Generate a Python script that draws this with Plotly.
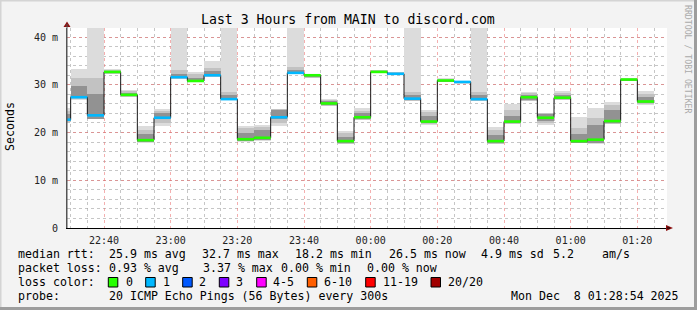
import plotly.graph_objects as go
import pandas as pd

# ---------------- data ----------------
step_end = pd.date_range("2025-12-07 22:30", "2025-12-08 01:25", freq="5min")

median_ms = [22.7, 27.4, 23.6, 32.7, 27.9, 18.4, 23.1, 31.6, 30.8, 32.0, 27.0, 18.6,
             18.9, 23.2, 32.5, 32.0, 26.1, 18.2, 23.2, 32.7, 32.3, 27.1, 22.3, 30.9,
             30.6, 27.0, 18.2, 22.3, 27.4, 23.1, 27.3, 18.2, 18.5, 22.4, 31.1, 26.5]

loss_level = [1, 1, 1, 0, 0, 0, 1, 1, 0, 1, 1, 0, 0, 1, 1, 0, 0, 0,
              0, 0, 1, 1, 0, 0, 1, 1, 0, 0, 0, 0, 0, 0, 0, 0, 0, 0]

smoke_lo = [22.2, 26.8, 22.8, 32.2, 27.5, 17.9, 21.4, 31.3, 30.5, 31.7, 26.8, 18.1,
            18.3, 21.4, 32.2, 31.4, 25.5, 17.5, 22.6, 32.4, 32.0, 26.7, 21.6, 30.5,
            30.2, 26.7, 17.6, 21.7, 26.6, 21.6, 26.8, 17.9, 17.7, 21.7, 30.7, 25.8]
smoke_hi = [25.1, 33.3, 45.0, 33.3, 28.9, 21.4, 24.9, 45.0, 32.7, 35.0, 45.0, 21.4,
            21.5, 24.9, 45.0, 32.3, 27.0, 20.3, 25.1, 33.0, 32.6, 45.0, 24.7, 31.4,
            30.8, 45.0, 21.2, 26.0, 28.5, 24.1, 28.7, 23.3, 25.1, 26.5, 31.5, 28.7]

mid_lo = [22.3, 27.0, 22.8, 32.3, 27.5, 18.0, 22.0, 31.3, 30.5, 31.7, 26.8, 18.2,
          18.4, 22.0, 32.2, 31.5, 25.6, 17.6, 22.7, 32.4, 32.0, 26.7, 21.7, 30.6,
          30.3, 26.7, 17.7, 21.8, 26.7, 22.0, 26.9, 17.9, 17.8, 21.8, 30.8, 25.9]
mid_hi = [24.5, 31.5, 31.5, 33.1, 28.6, 20.5, 24.5, 33.0, 32.2, 33.5, 28.5, 21.0,
          21.2, 24.9, 33.8, 32.2, 26.8, 19.8, 24.6, 33.0, 32.6, 28.5, 24.2, 31.3,
          30.8, 28.5, 20.5, 24.8, 28.2, 24.0, 28.3, 21.0, 23.0, 25.8, 31.4, 28.0]

core_lo = [22.4, 27.2, 22.8, 32.4, 27.6, 18.1, 22.8, 31.4, 30.6, 31.8, 26.9, 18.3,
           18.5, 22.9, 32.3, 31.6, 25.8, 17.8, 22.8, 32.5, 32.1, 26.8, 21.9, 30.7,
           30.4, 26.8, 17.9, 21.9, 26.9, 22.4, 27.0, 17.9, 17.9, 21.9, 30.9, 26.1]
core_hi = [23.8, 29.8, 28.0, 32.9, 28.3, 19.6, 24.0, 32.2, 31.5, 32.8, 27.8, 20.0,
           20.5, 24.8, 33.0, 32.1, 26.6, 19.0, 24.0, 32.9, 32.5, 27.8, 23.5, 31.1,
           30.7, 27.8, 19.5, 23.5, 27.9, 23.9, 27.8, 19.6, 21.5, 24.8, 31.3, 27.5]

loss_labels = ["0", "1", "2", "3", "4-5", "6-10", "11-19", "20/20"]
loss_colors = ["#26ff00", "#00b8ff", "#0059ff", "#7e00ff", "#ff00ff", "#ff5e00", "#ff0000", "#a10000"]

ytick_vals = [0, 10, 20, 30, 40]
ytick_text = ["0", "10 m", "20 m", "30 m", "40 m"]

title_text = "Last 3 Hours from MAIN to discord.com"
row1 = [("median rtt:", 16), ("25.9 ms avg", 107.3), ("32.7 ms max", 200.3), ("18.2 ms min", 293.3),
        ("26.5 ms now", 386.7), ("4.9 ms sd", 479), ("5.2", 551), ("am/s", 600)]
row2 = [("packet loss:", 16), ("0.93 % avg", 107.3), ("3.37 % max", 200.7), ("0.00 % min", 279.3),
        ("0.00 % now", 365)]
probe_text = "20 ICMP Echo Pings (56 Bytes) every 300s"
date_text = "Mon Dec  8 01:28:54 2025"

# ---------------- geometry helpers (pixel -> paper) ----------------
L, R, T, B = 67, 30, 28, 82
W, H = 697, 310
PW, PH = W - L - R, H - T - B


def pxx(px):
    return (px - L) / PW


def pxy(py):
    return (H - B - py) / PH


MONO = "DejaVu Sans Mono"
step = pd.Timedelta(minutes=5)
step_start = step_end - step
centers = step_end - step / 2

fig = go.Figure()

# smoke layers
for lo, hi, col in [(smoke_lo, smoke_hi, "#dcdcdc"), (mid_lo, mid_hi, "#c2c2c2"), (core_lo, core_hi, "#929292")]:
    fig.add_trace(go.Bar(
        x=centers, y=[h - l for l, h in zip(lo, hi)], base=lo,
        width=300000, marker=dict(color=col, line=dict(width=0)),
        hoverinfo="skip", showlegend=False))

# black median step line
fig.add_trace(go.Scatter(
    x=list(step_start) + [step_end[-1]], y=median_ms + [median_ms[-1]],
    mode="lines", line=dict(color="#1a1a1a", width=1, shape="hv"),
    hoverinfo="skip", showlegend=False))

# colored median segments by loss
for lvl, col in enumerate(loss_colors):
    xs, ys = [], []
    for s, e, m, l in zip(step_start, step_end, median_ms, loss_level):
        if l == lvl:
            xs += [s, e, None]
            ys += [m, m, None]
    if xs:
        fig.add_trace(go.Scatter(x=xs, y=ys, mode="lines",
                                 line=dict(color=col, width=2.6),
                                 hoverinfo="skip", showlegend=False))

fig.update_layout(
    width=W, height=H,
    margin=dict(l=L, r=R, t=T, b=B),
    paper_bgcolor="#f3f3f3", plot_bgcolor="#ffffff",
    barmode="overlay", bargap=0,
    font=dict(family=MONO, color="#000000"),
)

fig.update_xaxes(
    type="date",
    range=["2025-12-07 22:28:54", "2025-12-08 01:28:54"],
    tickformat="%H:%M", tick0="2025-12-07 22:40", dtick=20 * 60000,
    showgrid=True, gridcolor="rgba(235,110,110,0.55)", griddash="dot", gridwidth=1,
    minor=dict(dtick=5 * 60000, tick0="2025-12-07 22:40", showgrid=True,
               gridcolor="rgba(160,160,160,0.6)", griddash="dot", gridwidth=1),
    showline=True, linecolor="#000000", linewidth=1, zeroline=False,
    ticks="", tickfont=dict(family=MONO, size=10, color="#222"), ticklabelstandoff=3,
)
fig.update_yaxes(
    range=[0, 41.9], tickvals=ytick_vals, ticktext=ytick_text,
    showgrid=True, gridcolor="rgba(235,110,110,0.55)", griddash="dot", gridwidth=1,
    minor=dict(dtick=2, showgrid=True, gridcolor="rgba(160,160,160,0.6)", griddash="dot", gridwidth=1),
    showline=True, linecolor="#555555", linewidth=1, zeroline=False,
    ticks="", tickfont=dict(family=MONO, size=10, color="#222"), ticklabelstandoff=6,
)

shapes = []
# arrows
shapes.append(dict(type="path", xref="paper", yref="paper",
                   path=f"M {pxx(666)} {pxy(225)} L {pxx(673)} {pxy(228)} L {pxx(666)} {pxy(231)} Z",
                   fillcolor="#8b1010", line=dict(width=0)))
shapes.append(dict(type="path", xref="paper", yref="paper",
                   path=f"M {pxx(63.5)} {pxy(27)} L {pxx(67)} {pxy(21.5)} L {pxx(70.5)} {pxy(27)} Z",
                   fillcolor="#8b1010", line=dict(width=0)))
shapes.append(dict(type="line", xref="paper", yref="paper", x0=pxx(67), x1=pxx(67),
                   y0=pxy(228), y1=pxy(24), line=dict(color="#555555", width=1)))
shapes.append(dict(type="line", xref="paper", yref="paper", x0=pxx(667), x1=pxx(670),
                   y0=pxy(228), y1=pxy(228), line=dict(color="#000000", width=1)))
# frame
shapes.append(dict(type="rect", xref="paper", yref="paper", x0=pxx(0), x1=pxx(697), y0=pxy(0), y1=pxy(1.5),
                   fillcolor="#d4d4d4", line=dict(width=0), layer="below"))
shapes.append(dict(type="rect", xref="paper", yref="paper", x0=pxx(0), x1=pxx(1.5), y0=pxy(0), y1=pxy(310),
                   fillcolor="#d4d4d4", line=dict(width=0), layer="below"))
shapes.append(dict(type="rect", xref="paper", yref="paper", x0=pxx(0), x1=pxx(697), y0=pxy(307), y1=pxy(310),
                   fillcolor="#9d9d9d", line=dict(width=0), layer="below"))
shapes.append(dict(type="rect", xref="paper", yref="paper", x0=pxx(694), x1=pxx(697), y0=pxy(0), y1=pxy(310),
                   fillcolor="#9d9d9d", line=dict(width=0), layer="below"))

# loss color swatches
sq_x = [108.3, 145.7, 182.7, 219.3, 256.7, 307.3, 365.7, 431.0]
lab_x = [124.0, 161.3, 197.3, 234.3, 270.7, 322.3, 380.7, 445.7]
for sx, col in zip(sq_x, loss_colors):
    shapes.append(dict(type="rect", xref="paper", yref="paper",
                       x0=pxx(sx), x1=pxx(sx + 9.5), y0=pxy(277.5), y1=pxy(287),
                       fillcolor=col, line=dict(color="#000000", width=1)))
fig.update_layout(shapes=shapes)

ann = []


def txt(text, x, y, size=11.6, anchor="left", color="#000000", angle=0):
    ann.append(dict(text=text.replace(" ", "\u00a0"), x=pxx(x), y=pxy(y), xref="paper", yref="paper",
                    xanchor=anchor, yanchor="middle", showarrow=False, textangle=angle,
                    font=dict(family=MONO, size=size, color=color)))


txt(title_text, 348, 19, size=13.2, anchor="center")
txt("Seconds", 10, 127, size=11.6, anchor="center", angle=-90)
txt("RRDTOOL / TOBI OETIKER", 688, 59, size=8.2, anchor="center", color="#aaaaaa", angle=90)
for t, x in row1:
    txt(t, x, 254)
for t, x in row2:
    txt(t, x, 268)
txt("loss color:", 16, 282)
for lx, lab in zip(lab_x, loss_labels):
    txt(lab, lx, 282)
txt("probe:", 16, 296)
txt(probe_text, 107.3, 296)
txt(date_text, 680.5, 296, anchor="right")
fig.update_layout(annotations=ann)

fig.write_html("out.html")
